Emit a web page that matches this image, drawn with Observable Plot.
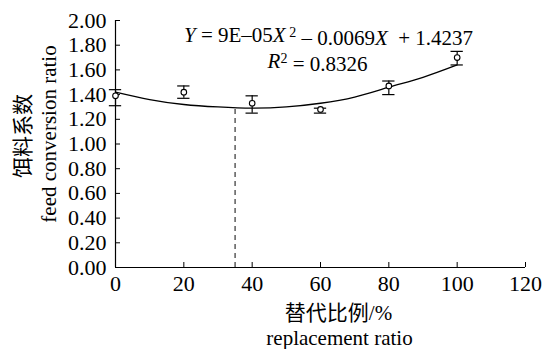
<!DOCTYPE html>
<html>
<head>
<meta charset="utf-8">
<script src="https://cdn.jsdelivr.net/npm/d3@7"></script>
<script src="https://cdn.jsdelivr.net/npm/@observablehq/plot@0.6"></script>
<style>
  html, body { margin: 0; padding: 0; background: #fff; }
  svg { display: block; }
</style>
</head>
<body>
<div id="chart"></div>
<script>
// Observed points (replacement ratio %, feed conversion ratio) with error bars
const replacement = [0, 20, 40, 60, 80, 100];
const fcrMean = [1.39, 1.42, 1.33, 1.28, 1.47, 1.70];
const fcrLow  = [1.31, 1.37, 1.25, 1.25, 1.40, 1.64];
const fcrHigh = [1.44, 1.47, 1.39, 1.29, 1.51, 1.75];

// Trend line
const trendX = [0, 10, 20, 30, 40, 50, 60, 70, 80, 90, 100];
const trendY = [1.42, 1.36, 1.32, 1.30, 1.29, 1.30, 1.33, 1.38, 1.46, 1.54, 1.64];

// Optimum marker
const optimumX = [35];
const optimumY = [1.30];

const xTicks = [0, 20, 40, 60, 80, 100, 120];
const yTicks = [0, 0.2, 0.4, 0.6, 0.8, 1.0, 1.2, 1.4, 1.6, 1.8, 2.0];

const equation = "Y = 9E–05X ² – 0.0069X  + 1.4237";
const r2Text = "R² = 0.8326";
const yTitle = ["饵料系数", "feed conversion ratio"];
const xTitle = ["替代比例/%", "replacement ratio"];

const points = replacement.map((x, i) => ({x, y: fcrMean[i], lo: fcrLow[i], hi: fcrHigh[i]}));
const trend = trendX.map((x, i) => ({x, y: trendY[i]}));
const optimum = optimumX.map((x, i) => ({x, y: optimumY[i]}));

const serif = "'Liberation Serif', 'Times New Roman', 'Noto Sans CJK SC', serif";
const capHalf = 1.8;

const chart = Plot.plot({
  width: 549,
  height: 349,
  marginLeft: 115,
  marginRight: 24,
  marginTop: 20,
  marginBottom: 82,
  style: {fontFamily: serif, fontSize: "21px", color: "#000", background: "#fff"},
  x: {domain: [0, 120], ticks: xTicks},
  y: {domain: [0, 2], ticks: yTicks},
  marks: [
    Plot.axisY({ticks: yTicks, tickSize: -5, tickPadding: 14, tickFormat: d3.format(".2f"), label: null, fontSize: 22, stroke: "#000"}),
    Plot.axisX({ticks: xTicks, tickSize: -5, tickPadding: 13, tickFormat: d => String(d), label: null, fontSize: 22, stroke: "#000"}),
    Plot.ruleX([0], {stroke: "#000", strokeWidth: 1.2}),
    Plot.ruleY([0], {stroke: "#000", strokeWidth: 1.2}),
    Plot.ruleX(optimum, {x: "x", y1: 0, y2: "y", stroke: "#333", strokeWidth: 1.2, strokeDasharray: "5,4"}),
    Plot.line(trend, {x: "x", y: "y", curve: "natural", stroke: "#000", strokeWidth: 1.3}),
    Plot.ruleX(points, {x: "x", y1: "lo", y2: "hi", stroke: "#000", strokeWidth: 1.2}),
    Plot.ruleY(points, {y: "lo", x1: d => d.x - capHalf, x2: d => d.x + capHalf, stroke: "#000", strokeWidth: 1.2}),
    Plot.ruleY(points, {y: "hi", x1: d => d.x - capHalf, x2: d => d.x + capHalf, stroke: "#000", strokeWidth: 1.2}),
    Plot.dot(points, {x: "x", y: "y", r: 2.8, fill: "#fff", stroke: "#000", strokeWidth: 1.1}),
    Plot.text([equation], {frameAnchor: "top", dx: 8, dy: 15, lineAnchor: "middle", textAnchor: "middle", fontSize: 21, fill: "#000", className: "eq-text"}),
    Plot.text([r2Text], {frameAnchor: "top", dx: -3, dy: 41, lineAnchor: "middle", textAnchor: "middle", fontSize: 21, fill: "#000", className: "r2-text"}),
    Plot.text([yTitle[0]], {frameAnchor: "left", dx: -92, dy: -8, rotate: -90, textAnchor: "middle", lineAnchor: "middle", fontSize: 21, fill: "#000"}),
    Plot.text([yTitle[1]], {frameAnchor: "left", dx: -66, dy: -10, rotate: -90, textAnchor: "middle", lineAnchor: "middle", fontSize: 21, fill: "#000"}),
    Plot.text([xTitle[0]], {frameAnchor: "bottom", dx: 18, dy: 46, lineAnchor: "middle", textAnchor: "middle", fontSize: 21, fill: "#000"}),
    Plot.text([xTitle[1]], {frameAnchor: "bottom", dx: 19, dy: 71, lineAnchor: "middle", textAnchor: "middle", fontSize: 21, fill: "#000"})
  ]
});

document.getElementById("chart").appendChild(chart);

// Italicize variables in the equation texts
const svg = d3.select(chart);
svg.selectAll(".eq-text text").each(function() {
  const t = d3.select(this);
  t.text(null).attr("xml:space", "preserve");
  t.append("tspan").attr("font-style", "italic").text("Y");
  t.append("tspan").text(" = 9E–05");
  t.append("tspan").attr("font-style", "italic").text("X");
  t.append("tspan").attr("dy", "-0.4em").attr("font-size", "14px").text(" 2");
  t.append("tspan").attr("dy", "0.4em").text(" – 0.0069");
  t.append("tspan").attr("font-style", "italic").text("X");
  t.append("tspan").text("  + 1.4237");
});
svg.selectAll(".r2-text text").each(function() {
  const t = d3.select(this);
  t.text(null);
  t.append("tspan").attr("font-style", "italic").text("R");
  t.append("tspan").attr("dy", "-0.4em").attr("font-size", "14px").text("2");
  t.append("tspan").attr("dy", "0.4em").text(" = 0.8326");
});
</script>
</body>
</html>
